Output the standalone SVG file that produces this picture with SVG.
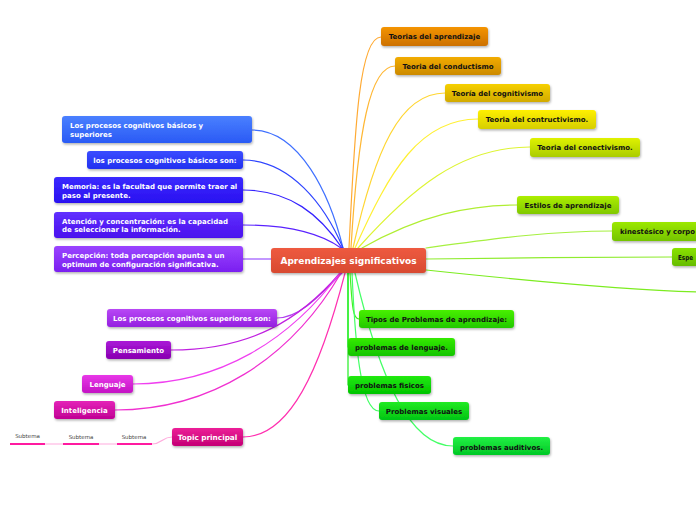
<svg xmlns="http://www.w3.org/2000/svg" width="696" height="520" viewBox="0 0 696 520">
<defs>
<filter id="sh" x="-10%" y="-20%" width="120%" height="160%"><feDropShadow dx="0.8" dy="1.5" stdDeviation="1" flood-color="#000" flood-opacity="0.3"/></filter>
<linearGradient id="gCenter" x1="0" y1="0" x2="0" y2="1"><stop offset="0" stop-color="#ee5a40"/><stop offset="1" stop-color="#d84a30"/></linearGradient>
<linearGradient id="gB1" x1="0" y1="0" x2="0" y2="1"><stop offset="0" stop-color="#4a80ff"/><stop offset="1" stop-color="#2a5af5"/></linearGradient>
<linearGradient id="gB2" x1="0" y1="0" x2="0" y2="1"><stop offset="0" stop-color="#3a4cff"/><stop offset="1" stop-color="#2230f0"/></linearGradient>
<linearGradient id="gB3" x1="0" y1="0" x2="0" y2="1"><stop offset="0" stop-color="#3a2aff"/><stop offset="1" stop-color="#2a10f0"/></linearGradient>
<linearGradient id="gB4" x1="0" y1="0" x2="0" y2="1"><stop offset="0" stop-color="#6030ff"/><stop offset="1" stop-color="#4a10ee"/></linearGradient>
<linearGradient id="gB5" x1="0" y1="0" x2="0" y2="1"><stop offset="0" stop-color="#9a44ff"/><stop offset="1" stop-color="#7a1ff0"/></linearGradient>
<linearGradient id="gP1" x1="0" y1="0" x2="0" y2="1"><stop offset="0" stop-color="#b848f5"/><stop offset="1" stop-color="#9420e0"/></linearGradient>
<linearGradient id="gP2" x1="0" y1="0" x2="0" y2="1"><stop offset="0" stop-color="#aa18d8"/><stop offset="1" stop-color="#8800b0"/></linearGradient>
<linearGradient id="gP3" x1="0" y1="0" x2="0" y2="1"><stop offset="0" stop-color="#e838e8"/><stop offset="1" stop-color="#c414c4"/></linearGradient>
<linearGradient id="gP4" x1="0" y1="0" x2="0" y2="1"><stop offset="0" stop-color="#e424b8"/><stop offset="1" stop-color="#c00094"/></linearGradient>
<linearGradient id="gP5" x1="0" y1="0" x2="0" y2="1"><stop offset="0" stop-color="#ec2098"/><stop offset="1" stop-color="#c40074"/></linearGradient>
<linearGradient id="gO1" x1="0" y1="0" x2="0" y2="1"><stop offset="0" stop-color="#f49400"/><stop offset="1" stop-color="#cc7000"/></linearGradient>
<linearGradient id="gO2" x1="0" y1="0" x2="0" y2="1"><stop offset="0" stop-color="#f2ac00"/><stop offset="1" stop-color="#cc8a00"/></linearGradient>
<linearGradient id="gO3" x1="0" y1="0" x2="0" y2="1"><stop offset="0" stop-color="#f6d000"/><stop offset="1" stop-color="#d2aa00"/></linearGradient>
<linearGradient id="gO4" x1="0" y1="0" x2="0" y2="1"><stop offset="0" stop-color="#fff000"/><stop offset="1" stop-color="#d6ce00"/></linearGradient>
<linearGradient id="gO5" x1="0" y1="0" x2="0" y2="1"><stop offset="0" stop-color="#e0f200"/><stop offset="1" stop-color="#aacc00"/></linearGradient>
<linearGradient id="gL1" x1="0" y1="0" x2="0" y2="1"><stop offset="0" stop-color="#acee00"/><stop offset="1" stop-color="#80c800"/></linearGradient>
<linearGradient id="gL2" x1="0" y1="0" x2="0" y2="1"><stop offset="0" stop-color="#9ce800"/><stop offset="1" stop-color="#74c400"/></linearGradient>
<linearGradient id="gL3" x1="0" y1="0" x2="0" y2="1"><stop offset="0" stop-color="#8ae200"/><stop offset="1" stop-color="#66bc00"/></linearGradient>
<linearGradient id="gG1" x1="0" y1="0" x2="0" y2="1"><stop offset="0" stop-color="#48f000"/><stop offset="1" stop-color="#22c800"/></linearGradient>
<linearGradient id="gG2" x1="0" y1="0" x2="0" y2="1"><stop offset="0" stop-color="#34ea00"/><stop offset="1" stop-color="#14c400"/></linearGradient>
<linearGradient id="gG3" x1="0" y1="0" x2="0" y2="1"><stop offset="0" stop-color="#22ea10"/><stop offset="1" stop-color="#00c400"/></linearGradient>
<linearGradient id="gG4" x1="0" y1="0" x2="0" y2="1"><stop offset="0" stop-color="#22ea22"/><stop offset="1" stop-color="#00c414"/></linearGradient>
<linearGradient id="gG5" x1="0" y1="0" x2="0" y2="1"><stop offset="0" stop-color="#22f044"/><stop offset="1" stop-color="#00c826"/></linearGradient>
</defs>
<style>
.n{filter:url(#sh)}
.t{font-family:"DejaVu Sans","Verdana",sans-serif;font-weight:bold;font-size:7px}
.w{fill:#ffffff}
.k{fill:#111111}
.c{text-anchor:middle}
.e path,.e line{fill:none;stroke-width:1.2;stroke-linecap:round}
.st{font-family:"DejaVu Sans",sans-serif;font-size:5.5px;fill:#444;text-anchor:middle}
</style>

<g id="connectors" class="e">
<path d="M343,248 C330,195 300,130 252,130" stroke="#3f70ff"/>
<path d="M343,248 C325,205 290,160 243,160" stroke="#2e44ff"/>
<path d="M342,248 C320,215 290,190 243,190" stroke="#3522ff"/>
<path d="M341,248 C320,233 290,225 243,225" stroke="#5a22ff"/>
<line x1="243" y1="259" x2="271" y2="259" stroke="#8833ff"/>
<path d="M349,248 C355,120 360,37 381,37" stroke="#ffaa33"/>
<path d="M351,248 C358,130 370,66 395,66" stroke="#ffb733"/>
<path d="M353,248 C375,150 400,93 445,93" stroke="#ffd633"/>
<path d="M355,248 C390,170 420,119 478,119" stroke="#fff033"/>
<path d="M358,248 C410,190 460,147 530,147" stroke="#def433"/>
<path d="M362,248 C420,215 470,205 517,205" stroke="#b0ee33"/>
<path d="M426,248 C500,238 550,231 612,231" stroke="#a6f040"/>
<path d="M426,259 C500,258 600,257 672,257" stroke="#90ec30"/>
<path d="M426,270 C520,280 620,290 700,292" stroke="#7cec20"/>
<path d="M350,273 C352,300 352,319 359,319" stroke="#44f022"/>
<path d="M348,273 L348,347" stroke="#22ee22"/>
<path d="M348,273 L348,385" stroke="#22ee22"/>
<path d="M352,273 C355,340 360,411 379,411" stroke="#44ff66"/>
<path d="M355,273 C380,380 410,446 453,446" stroke="#44ff66"/>
<path d="M342,273 C320,295 300,318 277,318" stroke="#b040f0"/>
<path d="M340,273 C300,320 250,350 171,350" stroke="#c020e0"/>
<path d="M340,273 C290,340 220,384 133,384" stroke="#f040f0"/>
<path d="M341,273 C290,360 210,410 115,410" stroke="#f030d0"/>
<path d="M345,273 C320,370 290,437 243,437" stroke="#ff30b0"/>
<path d="M45,444 C54,444 54,444 63,444" stroke="#ffaadd" stroke-width="1"/>
<path d="M99,444 C108,444 108,444 117,444" stroke="#ffaadd" stroke-width="1"/>
<path d="M152,444 C162,444 162,437 172,437" stroke="#ffaadd" stroke-width="1"/>
</g>

<g id="center"><rect class="n" x="271" y="248" width="155" height="25" rx="3" fill="url(#gCenter)"/><text class="t w c" x="348.5" y="264" style="font-size:9px">Aprendizajes significativos</text></g>

<g id="n-basicos-superiores"><rect class="n" x="62" y="116" width="190" height="27" rx="3" fill="url(#gB1)"/><text class="t w" x="70" y="128">Los procesos cognitivos básicos y</text><text class="t w" x="70" y="137">superiores</text></g>
<g id="n-basicos-son"><rect class="n" x="87" y="151" width="156" height="18" rx="3" fill="url(#gB2)"/><text class="t w c" x="165" y="163">los procesos cognitivos básicos son:</text></g>
<g id="n-memoria"><rect class="n" x="54" y="177" width="189" height="26" rx="3" fill="url(#gB3)"/><text class="t w" x="62" y="189">Memoria: es la facultad que permite traer al</text><text class="t w" x="62" y="197.5">paso al presente.</text></g>
<g id="n-atencion"><rect class="n" x="54" y="212" width="189" height="26" rx="3" fill="url(#gB4)"/><text class="t w" x="62" y="223.5">Atención y concentración: es la capacidad</text><text class="t w" x="62" y="232">de seleccionar la información.</text></g>
<g id="n-percepcion"><rect class="n" x="54" y="246" width="189" height="26" rx="3" fill="url(#gB5)"/><text class="t w" x="62" y="258">Percepción: toda percepción apunta a un</text><text class="t w" x="62" y="266.5">optimum de configuración significativa.</text></g>

<g id="n-superiores-son"><rect class="n" x="107" y="309" width="170" height="18" rx="3" fill="url(#gP1)"/><text class="t w c" x="192" y="321">Los procesos cognitivos superiores son:</text></g>
<g id="n-pensamiento"><rect class="n" x="106" y="341" width="65" height="18" rx="3" fill="url(#gP2)"/><text class="t w c" x="138.5" y="353">Pensamiento</text></g>
<g id="n-lenguaje"><rect class="n" x="82" y="375" width="51" height="18" rx="3" fill="url(#gP3)"/><text class="t w c" x="107.5" y="387">Lenguaje</text></g>
<g id="n-inteligencia"><rect class="n" x="54" y="401" width="61" height="18" rx="3" fill="url(#gP4)"/><text class="t w c" x="84.5" y="413">Inteligencia</text></g>
<g id="n-topic"><rect class="n" x="172" y="428" width="71" height="18" rx="3" fill="url(#gP5)"/><text class="t w c" x="207.5" y="440" style="font-size:7.3px">Topic principal</text></g>
<g id="n-subtema1"><text class="st" x="27.5" y="438">Subtema</text><line x1="10" y1="444" x2="45" y2="444" stroke="#ff1aa0" stroke-width="2"/></g>
<g id="n-subtema2"><text class="st" x="81" y="439">Subtema</text><line x1="63" y1="444" x2="99" y2="444" stroke="#ff1aa0" stroke-width="2"/></g>
<g id="n-subtema3"><text class="st" x="134" y="439">Subtema</text><line x1="117" y1="444" x2="152" y2="444" stroke="#ff1aa0" stroke-width="2"/></g>

<g id="n-teorias"><rect class="n" x="381" y="27" width="107" height="19" rx="3" fill="url(#gO1)"/><text class="t k c" x="434.5" y="39">Teorias del aprendizaje</text></g>
<g id="n-conductismo"><rect class="n" x="395" y="57" width="106" height="18" rx="3" fill="url(#gO2)"/><text class="t k c" x="448" y="69">Teoria del conductismo</text></g>
<g id="n-cognitivismo"><rect class="n" x="445" y="84" width="105" height="18" rx="3" fill="url(#gO3)"/><text class="t k c" x="497.5" y="96">Teoría del cognitivismo</text></g>
<g id="n-contructivismo"><rect class="n" x="478" y="110" width="118" height="19" rx="3" fill="url(#gO4)"/><text class="t k c" x="537" y="122">Teoria del contructivismo.</text></g>
<g id="n-conectivismo"><rect class="n" x="530" y="138" width="110" height="19" rx="3" fill="url(#gO5)"/><text class="t k c" x="585" y="150">Teoria del conectivismo.</text></g>
<g id="n-estilos"><rect class="n" x="517" y="196" width="102" height="18" rx="3" fill="url(#gL1)"/><text class="t k c" x="568" y="208">Estilos de aprendizaje</text></g>
<g id="n-kinestesico"><rect class="n" x="612" y="222" width="100" height="19" rx="3" fill="url(#gL2)"/><text class="t k" x="620" y="234" textLength="75" lengthAdjust="spacingAndGlyphs">kinestésico y corpo</text></g>
<g id="n-espe"><rect class="n" x="672" y="248" width="40" height="18" rx="3" fill="url(#gL3)"/><text class="t k" x="678" y="260" textLength="15" lengthAdjust="spacingAndGlyphs">Espe</text></g>

<g id="n-tipos"><rect class="n" x="359" y="310" width="155" height="18" rx="3" fill="url(#gG1)"/><text class="t k c" x="436.5" y="322">Tipos de Problemas de aprendizaje:</text></g>
<g id="n-prob-lenguaje"><rect class="n" x="348" y="338" width="107" height="18" rx="3" fill="url(#gG2)"/><text class="t k c" x="401.5" y="349.5">problemas de lenguaje.</text></g>
<g id="n-prob-fisicos"><rect class="n" x="348" y="376" width="83" height="18" rx="3" fill="url(#gG3)"/><text class="t k c" x="389.5" y="388">problemas fisicos</text></g>
<g id="n-prob-visuales"><rect class="n" x="379" y="402" width="90" height="18" rx="3" fill="url(#gG4)"/><text class="t k c" x="424" y="414">Problemas visuales</text></g>
<g id="n-prob-auditivos"><rect class="n" x="453" y="437" width="97" height="18" rx="3" fill="url(#gG5)"/><text class="t k c" x="501.5" y="449.5">problemas auditivos.</text></g>
</svg>
